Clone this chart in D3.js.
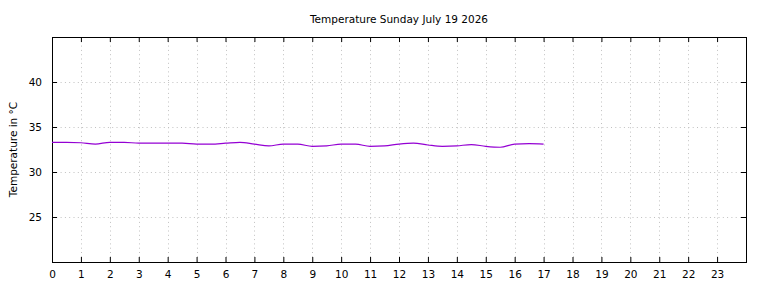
<!DOCTYPE html>
<html>
<head>
<meta charset="utf-8">
<script src="https://cdn.jsdelivr.net/npm/d3@7"></script>
<style>
  body { margin: 0; background: #fff; }
  svg text { font-family: "DejaVu Sans", sans-serif; font-size: 10.5px; fill: #000; }
</style>
</head>
<body>
<div id="chart"></div>
<script>
// hour of day, half hour steps
var hours = [0, 0.5, 1, 1.5, 2, 2.5, 3, 3.5, 4, 4.5, 5, 5.5, 6, 6.5, 7, 7.5, 8, 8.5,
             9, 9.5, 10, 10.5, 11, 11.5, 12, 12.5, 13, 13.5, 14, 14.5, 15, 15.5, 16, 16.5, 17];
var temps = [33.3, 33.3, 33.25, 33.1, 33.3, 33.3, 33.2, 33.2, 33.2, 33.2, 33.1, 33.1, 33.2, 33.3,
             33.1, 32.9, 33.1, 33.1, 32.85, 32.9, 33.1, 33.1, 32.85, 32.9, 33.1, 33.2, 33.0, 32.85,
             32.9, 33.05, 32.85, 32.75, 33.1, 33.15, 33.1];
var xTicks = d3.range(0, 24);
var yTicks = [25, 30, 35, 40];
var title = 'Temperature Sunday July 19 2026';
var yLabel = 'Temperature in °C';

var w = 768, h = 288;
var pLeft = 52, pRight = 746, pTop = 37, pBottom = 262;

var svg = d3.select('#chart').append('svg')
    .attr('width', w)
    .attr('height', h);

var x = d3.scaleLinear().domain([0, 24]).range([pLeft, pRight]);
var y = d3.scaleLinear().domain([20, 45]).range([pBottom, pTop]);

// grid
var grid = svg.append('g').attr('stroke', '#c0c0c0').attr('stroke-dasharray', '1,3.3');
grid.selectAll('.gx').data(xTicks.filter(function(d) { return d > 0; })).enter()
    .append('line')
    .attr('x1', function(d) { return Math.round(x(d)) + 0.5; })
    .attr('x2', function(d) { return Math.round(x(d)) + 0.5; })
    .attr('y1', pTop).attr('y2', pBottom);
grid.selectAll('.gy').data(yTicks).enter()
    .append('line')
    .attr('y1', function(d) { return Math.round(y(d)) + 0.5; })
    .attr('y2', function(d) { return Math.round(y(d)) + 0.5; })
    .attr('x1', pLeft).attr('x2', pRight);

// axes (ticks inward, mirrored)
var xb = svg.append('g').attr('transform', 'translate(0,' + pBottom + ')')
    .call(d3.axisBottom(x).tickValues(xTicks).tickSize(-5).tickPadding(9));
var xt = svg.append('g').attr('transform', 'translate(0,' + pTop + ')')
    .call(d3.axisTop(x).tickValues(xTicks).tickSize(-5).tickFormat(''));
var yl = svg.append('g').attr('transform', 'translate(' + pLeft + ',0)')
    .call(d3.axisLeft(y).tickValues(yTicks).tickSize(-5).tickPadding(10));
var yr = svg.append('g').attr('transform', 'translate(' + pRight + ',0)')
    .call(d3.axisRight(y).tickValues(yTicks).tickSize(-5).tickFormat(''));

[xb, xt, yl, yr].forEach(function(g) {
    g.select('.domain').remove();
    g.selectAll('line').attr('stroke', '#000');
    g.selectAll('text').attr('font-family', null).attr('font-size', null);
});

svg.append('rect')
    .attr('x', pLeft + 0.5).attr('y', pTop + 0.5)
    .attr('width', pRight - pLeft).attr('height', pBottom - pTop)
    .attr('fill', 'none').attr('stroke', '#000');

// line
var line = d3.line()
    .x(function(d, i) { return x(hours[i]); })
    .y(function(d) { return y(d); })
    .curve(d3.curveMonotoneX);

svg.append('path')
    .datum(temps)
    .attr('d', line)
    .attr('fill', 'none')
    .attr('stroke', '#9400d3')
    .attr('stroke-width', 1.2);

// texts
svg.append('text')
    .attr('x', (pLeft + pRight) / 2).attr('y', 23)
    .attr('text-anchor', 'middle')
    .text(title);

svg.append('text')
    .attr('transform', 'translate(17,' + ((pTop + pBottom) / 2) + ') rotate(-90)')
    .attr('text-anchor', 'middle')
    .text(yLabel);
</script>
</body>
</html>
